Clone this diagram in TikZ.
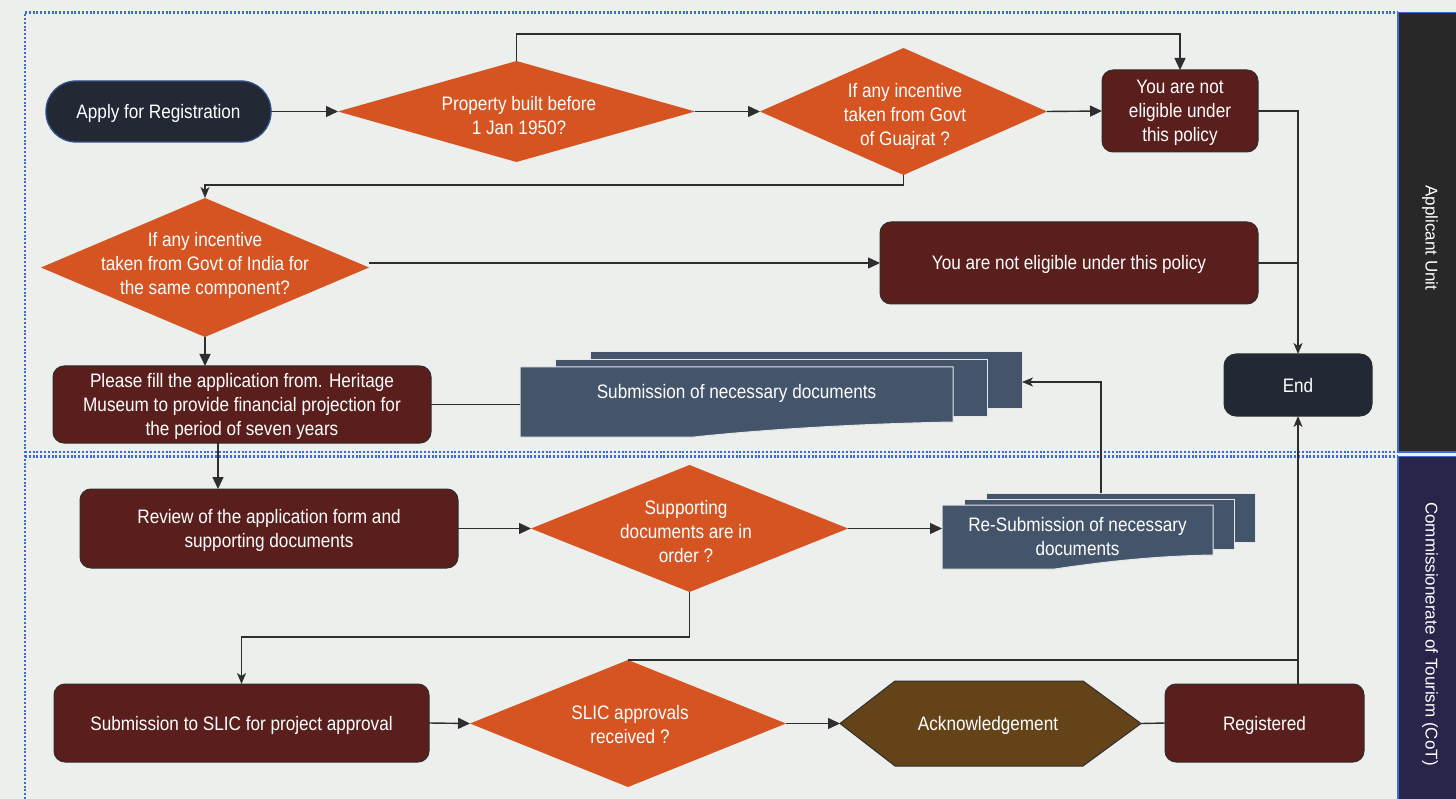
\documentclass[tikz,border=0pt]{standalone}
\usepackage{fontspec}
\setmainfont[FakeStretch=0.88]{Liberation Sans}
\newfontfamily\bandfont{Liberation Sans}
\usetikzlibrary{shapes.geometric,arrows.meta,calc}
\newcommand\mfs{\fontsize{19.5}{24}\selectfont}
\newcommand\bfs{\bandfont\fontsize{17}{20}\selectfont}
\definecolor{bg}{HTML}{EDEFEC}
\definecolor{navy}{HTML}{222834}
\definecolor{navyedge}{HTML}{33508A}
\definecolor{maroon}{HTML}{5A1F1D}
\definecolor{orng}{HTML}{D55422}
\definecolor{slate}{HTML}{44546A}
\definecolor{docedge}{HTML}{E4E6E8}
\definecolor{brownack}{HTML}{654319}
\definecolor{linec}{HTML}{2E2E2E}
\definecolor{laneblue}{HTML}{3B6BD6}
\definecolor{bandA}{HTML}{282828}
\definecolor{bandB}{HTML}{29244A}
\begin{document}
\begin{tikzpicture}[x=1pt,y=-1pt,
  every node/.style={font=\mfs, text=white, align=center, inner sep=0pt, outer sep=0pt},
  startbox/.style={rectangle, rounded corners=30pt, fill=navy, draw=navyedge, line width=1.3pt},
  endbox/.style={rectangle, rounded corners=12pt, fill=navy, draw=linec, line width=1pt},
  proc/.style={rectangle, rounded corners=11pt, fill=maroon, draw=linec, line width=1pt},
  dia/.style={diamond, fill=orng, draw=none},
  docfill/.style={fill=slate, draw=docedge, line width=1pt},
  conn/.style={draw=linec, line width=1.4pt},
  arr/.style={conn, -{Triangle[length=12pt,width=11pt]}},
  sarr/.style={conn, -{Stealth[length=11pt,width=9pt,inset=3pt]}},
  lane/.style={draw=laneblue, line width=2.2pt, dash pattern=on 2pt off 1.8pt},
  bandtxt/.style={font=\bfs, text=white}
]
\useasboundingbox (0,0) rectangle (1456,799);
\fill[bg] (0,0) rectangle (1456,799);

% lanes
\draw[lane] (25,799) -- (25,12.5) -- (1398,12.5);
\draw[lane] (25,452) -- (1398,452);
\draw[lane] (25,456.5) -- (1398,456.5);
\filldraw[fill=bandA, draw=laneblue, line width=1.2pt] (1398,12.5) rectangle (1460,452);
\filldraw[fill=bandB, draw=laneblue, line width=1.2pt] (1398,456.5) rectangle (1460,803);
\node[bandtxt, rotate=-90] (labA) at (1430,238) {Applicant Unit};
\node[bandtxt, rotate=-90] (labB) at (1430,634) {Commissionerate of Tourism (CoT)};

% documents stacks
\path[docfill] (590,352) rectangle (1022,408);
\path[docfill] (555,360) rectangle (987,416);
\path[docfill] (520,367) -- (953,367) -- (953,422) .. controls (850,424) and (760,430) .. (694,437) -- (520,437) -- cycle;
\node[minimum width=433pt, minimum height=20pt] (sub) at (736.5,393) {Submission of necessary documents};
\coordinate (subback) at (1022,382);

\path[docfill] (986,493) rectangle (1255,542);
\path[docfill] (964,499) rectangle (1234,549);
\path[docfill] (942,505) -- (1213,505) -- (1213,555) .. controls (1150,556) and (1095,563) .. (1055,569) -- (942,569) -- cycle;
\node[minimum width=271pt, minimum height=20pt] (resub) at (1077.5,537) {Re-Submission of necessary\\documents};
\coordinate (resubtop) at (1101,493);

% acknowledgement hexagon
\path[fill=brownack, draw=linec, line width=1pt] (840,723.5) -- (895,681) -- (1083,681) -- (1141,723.5) -- (1083,766) -- (895,766) -- cycle;
\node[minimum width=301pt, minimum height=20pt] (ack) at (990.5,723.5) {};
\node at (988,725.5) {Acknowledgement};

% nodes
\node[startbox, minimum width=225pt, minimum height=61pt] (A) at (158.5,111.5) {};
\node at (158.5,113.5) {Apply for Registration};
\node[dia, minimum width=357pt, minimum height=101pt] (D1) at (516.5,111.5) {};
\node at (519,116) {Property built before\\1 Jan 1950?};
\node[dia, minimum width=287pt, minimum height=127pt] (D2) at (903.5,111.5) {};
\node at (905,116) {If any incentive\\taken from Govt\\of Guajrat ?};
\node[proc, minimum width=156pt, minimum height=82pt] (NE1) at (1180,111) {};
\node at (1180,113) {You are not\\eligible under\\this policy};
\node[dia, minimum width=328pt, minimum height=139pt] (D3) at (205,267.5) {};
\node at (205,265) {If any incentive\\taken from Govt of India for\\the same component?};
\node[proc, minimum width=378pt, minimum height=82pt] (NE2) at (1069,263) {};
\node at (1069,264) {You are not eligible under this policy};
\node[endbox, minimum width=148pt, minimum height=62pt] (End) at (1298,385) {};
\node at (1298,386) {End};
\node[proc, minimum width=378pt, minimum height=77pt] (F) at (242,404.5) {};
\node at (242,406) {Please fill the application from. Heritage\\Museum to provide financial projection for\\the period of seven years};
\node[proc, minimum width=378pt, minimum height=79pt] (R) at (269,528.5) {};
\node at (269,530) {Review of the application form and\\supporting documents};
\node[dia, minimum width=317pt, minimum height=127pt] (D4) at (689.5,528.5) {};
\node at (686,532) {Supporting\\documents are in\\order ?};
\node[proc, minimum width=375pt, minimum height=78pt] (S) at (241.5,723) {};
\node at (241.5,725) {Submission to SLIC for project approval};
\node[dia, minimum width=316pt, minimum height=127pt] (D5) at (628,723.5) {};
\node at (630,724.5) {SLIC approvals\\received ?};
\node[proc, minimum width=199pt, minimum height=78pt] (Reg) at (1264.5,723) {};
\node at (1264.5,725) {Registered};

% connectors
\draw[arr] (A.east) -- (D1.west);
\draw[arr] (D1.north) -- ++(0,-27) -| (NE1.north);
\draw[arr] (D1.east) -- (D2.west);
\draw[arr] (D2.east) -- (NE1.west);
\draw[sarr] (D2.south) -- ++(0,10) -| (D3.north);
\draw[arr] (NE2.west -| D3.east) -- (NE2.west);
\draw[sarr] (NE1.east) -| (End.north);
\draw[conn] (NE2.east) -- (NE2.east -| End.north);
\draw[arr] (D3.south) -- (D3.south |- F.north);
\draw[conn] (F.east) -- (F.east -| sub.west);
\coordinate (fo) at ([xshift=-24pt]F.south);
\draw[arr] (fo) -- (fo |- R.north);
\draw[arr] (R.east) -- (D4.west);
\draw[arr] (D4.east) -- (D4.east -| resub.west);
\draw[sarr] (resubtop) |- (subback);
\draw[sarr] (D4.south) -- ++(0,45) -| (S.north);
\draw[arr] (S.east) -- (D5.west);
\draw[arr] (D5.east) -- (ack.west);
\draw[conn] (ack.east) -- (Reg.west);
\draw[sarr] (Reg.north -| End.south) -- (End.south);
\draw[conn] (D5.north) -- (D5.north -| End.south);
\end{tikzpicture}
\end{document}
